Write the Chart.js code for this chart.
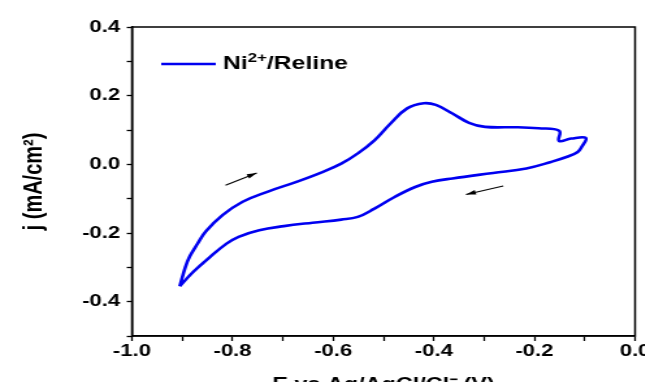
<!DOCTYPE html>
<html>
<head>
<meta charset="utf-8">
<script src="https://cdn.jsdelivr.net/npm/chart.js"></script>
<style>
  html, body { margin: 0; padding: 0; background: #fff; overflow: hidden; }
  #wrap { width: 645px; height: 382px; overflow: hidden; position: relative; }
  /* the source figure is stretched sideways, so the canvas is too */
  #my-chart { position: absolute; left: 0; top: 0; transform-origin: 0 0; transform: scaleX(1.3); }
</style>
</head>
<body>
<div id="wrap"><canvas id="my-chart" width="500" height="400"></canvas></div>
<script>
// cyclic voltammogram, one closed loop starting at the cathodic vertex
const potential = [
  -0.905, -0.894, -0.885, -0.870, -0.853, -0.820, -0.780, -0.731, -0.673, -0.624, -0.584,
  -0.551, -0.518, -0.486, -0.453, -0.420, -0.396, -0.363, -0.330, -0.298, -0.233,
  -0.192, -0.151, -0.151, -0.127, -0.098,
  -0.106, -0.114, -0.135, -0.167, -0.216, -0.282, -0.363, -0.404, -0.437, -0.478,
  -0.518, -0.551, -0.584, -0.641, -0.698, -0.747, -0.788, -0.812, -0.845, -0.878, -0.905
];
const current = [
  -0.355, -0.300, -0.268, -0.232, -0.195, -0.148, -0.109, -0.080, -0.051, -0.024, 0.002,
  0.032, 0.070, 0.119, 0.163, 0.178, 0.173, 0.148, 0.121, 0.109, 0.108,
  0.105, 0.098, 0.068, 0.075, 0.077,
  0.051, 0.036, 0.022, 0.007, -0.012, -0.025, -0.041, -0.051, -0.066, -0.095,
  -0.129, -0.153, -0.161, -0.170, -0.180, -0.192, -0.211, -0.231, -0.270, -0.313, -0.355
];
const seriesName = ['Ni', '2+', '/Reline'];

// scan direction arrows [x0, y0, x1, y1] in data units
const arrows = [
  [-0.814, -0.061, -0.752, -0.025],
  [-0.262, -0.063, -0.336, -0.088]
];

const xLabels = ['-1.0', '-0.8', '-0.6', '-0.4', '-0.2', '0.0'];
const yLabels = ['-0.4', '-0.2', '0.0', '0.2', '0.4'];

const W = 500, H = 400;
const plotLeft = 101.5, plotRight = 488.5, plotTop = 27, plotBottom = 336;
const bold = (size) => ({ family: '"Liberation Sans", Arial, sans-serif', size: size, weight: 'bold' });

const extras = {
  id: 'extras',
  afterDraw(chart) {
    const c = chart.ctx, a = chart.chartArea;
    const sx = chart.scales.x, sy = chart.scales.y;
    c.save();
    // frame
    c.strokeStyle = '#000';
    c.lineWidth = 1.5;
    c.strokeRect(a.left, a.top, a.right - a.left, a.bottom - a.top);

    // legend
    const ly = 64;
    c.strokeStyle = chart.data.datasets[0].borderColor;
    c.lineWidth = 2.6;
    c.beginPath(); c.moveTo(124, ly); c.lineTo(166, ly); c.stroke();
    c.fillStyle = '#000';
    c.textBaseline = 'middle';
    let tx = 171.5;
    c.font = 'bold 19px "Liberation Sans", Arial, sans-serif';
    c.fillText(seriesName[0], tx, ly);
    tx += c.measureText(seriesName[0]).width;
    c.font = 'bold 13px "Liberation Sans", Arial, sans-serif';
    c.fillText(seriesName[1], tx, ly - 6);
    tx += c.measureText(seriesName[1]).width;
    c.font = 'bold 19px "Liberation Sans", Arial, sans-serif';
    c.fillText(seriesName[2], tx, ly);

    // arrows
    c.strokeStyle = '#000';
    c.fillStyle = '#000';
    c.lineWidth = 1.1;
    arrows.forEach(([x0, y0, x1, y1]) => {
      const p0 = [sx.getPixelForValue(x0), sy.getPixelForValue(y0)];
      const p1 = [sx.getPixelForValue(x1), sy.getPixelForValue(y1)];
      const ang = Math.atan2(p1[1] - p0[1], p1[0] - p0[0]);
      c.beginPath(); c.moveTo(p0[0], p0[1]); c.lineTo(p1[0], p1[1]); c.stroke();
      c.beginPath();
      c.moveTo(p1[0], p1[1]);
      c.lineTo(p1[0] - 8 * Math.cos(ang - 0.3), p1[1] - 8 * Math.sin(ang - 0.3));
      c.lineTo(p1[0] - 8 * Math.cos(ang + 0.3), p1[1] - 8 * Math.sin(ang + 0.3));
      c.closePath(); c.fill();
    });
    c.restore();
  }
};

const ctx = document.getElementById('my-chart').getContext('2d');
const myChart = new Chart(ctx, {
  type: 'scatter',
  data: {
    datasets: [{
      label: seriesName.join(''),
      data: potential.map((x, i) => ({ x: x, y: current[i] })),
      showLine: true,
      borderColor: '#0000f0',
      borderWidth: 2.6,
      pointRadius: 0,
      tension: 0.4,
      fill: false
    }]
  },
  options: {
    responsive: false,
    animation: false,
    devicePixelRatio: 1,
    layout: { padding: { left: 0, right: W - plotRight, top: plotTop, bottom: 0 } },
    plugins: { legend: { display: false }, tooltip: { enabled: false } },
    scales: {
      x: {
        type: 'linear',
        min: -1.0, max: 0.0,
        afterFit: (s) => { s.height = H - plotBottom; s.paddingLeft = 0; s.paddingRight = 0; },
        ticks: {
          stepSize: 0.1,
          padding: 0,
          color: '#000',
          font: bold(17),
          maxRotation: 0,
          autoSkip: false,
          callback: (v) => {
            const t = v.toFixed(1);
            return xLabels.includes(t) ? t : '';
          }
        },
        grid: { drawOnChartArea: false, tickLength: 5, tickColor: '#000', tickWidth: 1.3 },
        border: { color: '#000', width: 1.5 },
        title: {
          display: true,
          text: 'E vs Ag/AgCl/Cl\u207B (V)',
          color: '#000',
          font: bold(18),
          padding: { top: 0, bottom: 4 }
        }
      },
      y: {
        type: 'linear',
        min: -0.5, max: 0.4,
        afterFit: (s) => { s.width = plotLeft; s.paddingTop = 0; s.paddingBottom = 0; },
        ticks: {
          stepSize: 0.1,
          padding: 5,
          color: '#000',
          font: bold(17),
          autoSkip: false,
          callback: (v) => {
            const t = (Math.abs(v) < 1e-9 ? 0 : v).toFixed(1);
            return yLabels.includes(t) ? t : '';
          }
        },
        grid: { drawOnChartArea: false, tickLength: 4, tickColor: '#000', tickWidth: 1.3 },
        border: { color: '#000', width: 1.5 },
        title: {
          display: true,
          text: 'j (mA/cm\u00B2)',
          color: '#000',
          font: bold(20),
          padding: { top: 14, bottom: 0 }
        }
      }
    }
  },
  plugins: [extras]
});
</script>
</body>
</html>
